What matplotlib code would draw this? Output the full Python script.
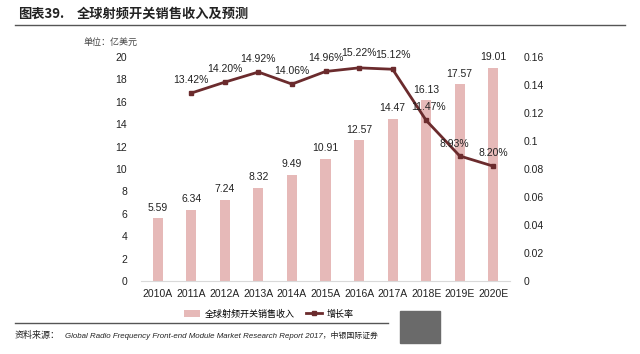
import matplotlib.pyplot as plt
import numpy as np
from matplotlib.patches import Rectangle

plt.rcParams['font.family'] = ['Liberation Sans', 'Noto Sans CJK SC', 'DejaVu Sans']

years = ["2010A", "2011A", "2012A", "2013A", "2014A", "2015A", "2016A",
         "2017A", "2018E", "2019E", "2020E"]
revenue = [5.59, 6.34, 7.24, 8.32, 9.49, 10.91, 12.57, 14.47, 16.13, 17.57, 19.01]
growth_years = years[1:]
growth = [0.1342, 0.1420, 0.1492, 0.1406, 0.1496, 0.1522, 0.1512, 0.1147, 0.0893, 0.0820]
growth_labels = ["13.42%", "14.20%", "14.92%", "14.06%", "14.96%", "15.22%",
                 "15.12%", "11.47%", "8.93%", "8.20%"]

bar_color = "#e6b9b8"
line_color = "#6b2b2d"
cjk = ['Noto Sans CJK SC', 'DejaVu Sans']

fig = plt.figure(figsize=(6.4, 3.54), dpi=100)
ax = fig.add_axes([0.2203, 0.2062, 0.5766, 0.633])
x = np.arange(len(years))
bars = ax.bar(x, revenue, width=0.3, color=bar_color, label="全球射频开关销售收入")
for xi, v in zip(x, revenue):
    ax.annotate(f"{v:.2f}", (xi, v), xytext=(0, 4), textcoords="offset points",
                ha="center", va="bottom", fontsize=7.5, color="#222222")
ax.set_ylim(0, 20)
ax.set_yticks(np.arange(0, 21, 2))
ax.set_xlim(-0.5, len(years) - 0.5)
ax.set_xticks(x)
ax.set_xticklabels(years)
for s in ["top", "right", "left"]:
    ax.spines[s].set_visible(False)
ax.spines["bottom"].set_color("#d9d9d9")
ax.tick_params(length=0, labelsize=7.5, colors="#222222")
ax.tick_params(axis="y", pad=10)
ax.tick_params(axis="x", pad=6)

ax2 = ax.twinx()
gx = np.arange(1, len(years))
line, = ax2.plot(gx, growth, color=line_color, lw=2, marker="s", ms=3.5,
                 label="增长率")
offsets = [(0, 6), (0, 6), (0, 6), (0, 6), (0, 6), (0, 7), (0, 7), (2, 6), (-4, 5), (0, 6)]
for xi, v, t, off in zip(gx, growth, growth_labels, offsets):
    ax2.annotate(t, (xi, v), xytext=off, textcoords="offset points",
                 ha="center", va="bottom", fontsize=7.5, color="#222222")
ax2.set_ylim(0, 0.16)
ax2.set_yticks(np.arange(0, 0.161, 0.02))
ax2.set_yticklabels(["0", "0.02", "0.04", "0.06", "0.08", "0.1", "0.12", "0.14", "0.16"])
for s in ["top", "right", "left", "bottom"]:
    ax2.spines[s].set_visible(False)
ax2.tick_params(length=0, labelsize=7.5, colors="#222222", pad=10)

fig.legend([bars, line], ["全球射频开关销售收入", "增长率"], loc="center",
           bbox_to_anchor=(0.42, 0.113), ncol=2, frameon=False,
           prop={'family': cjk, 'size': 6.5}, handlelength=1.8,
           columnspacing=1.2, handletextpad=0.5)

# title and rules
fig.text(0.028, 0.962, "图表39.", fontsize=9.5, fontweight="bold", family=cjk,
         va="center", color="#222222")
fig.text(0.12, 0.962, "全球射频开关销售收入及预测", fontsize=9.5, fontweight="bold",
         family=cjk, va="center", color="#222222")
fig.add_artist(plt.Line2D([0.023, 0.977], [0.93, 0.93], color="#555555", lw=1))
fig.text(0.13, 0.88, "单位：亿美元", fontsize=6.5, family=cjk, va="center", color="#444444")
fig.add_artist(plt.Line2D([0.023, 0.607], [0.088, 0.088], color="#555555", lw=1))
fig.text(0.023, 0.053, "资料来源：", fontsize=6.5, family=cjk, style="italic",
         va="center", color="#222222")
fig.text(0.102, 0.053, "Global Radio Frequency Front-end Module Market Research Report 2017，中银国际证券",
         fontsize=5.7, family=['Liberation Sans', 'Noto Sans CJK SC'], style="italic",
         va="center", color="#222222")
fig.add_artist(Rectangle((0.625, 0.031), 0.063, 0.09, transform=fig.transFigure,
                         color="#6a6a6a"))

fig.savefig("out.png", dpi=100)
